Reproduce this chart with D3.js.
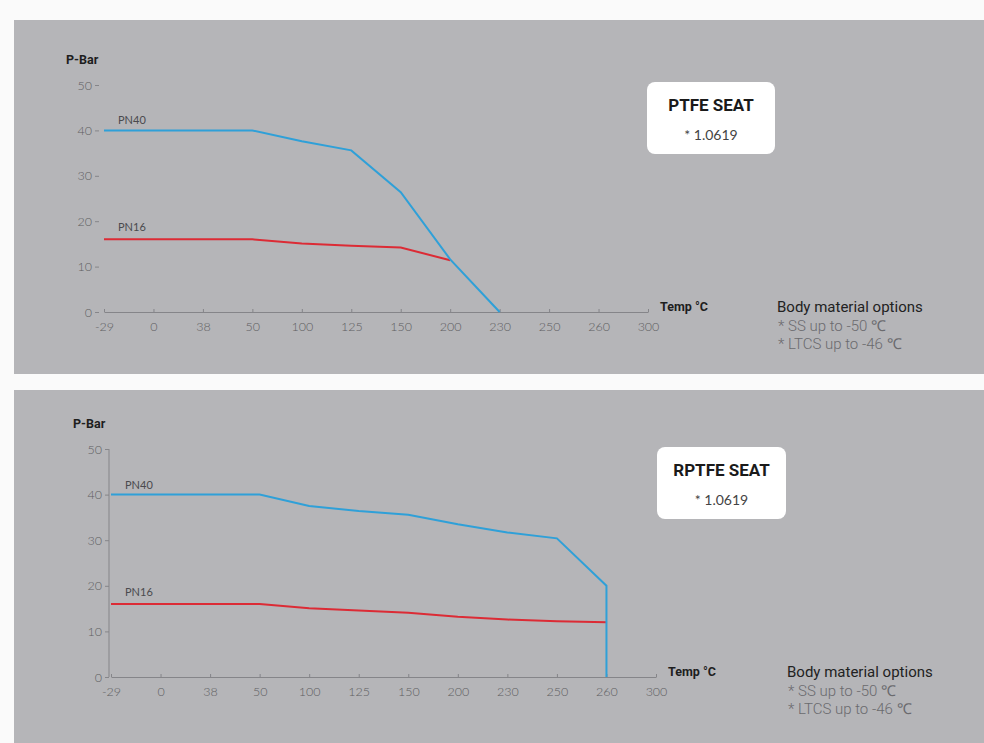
<!DOCTYPE html>
<html>
<head>
<meta charset="utf-8">
<script src="https://cdn.jsdelivr.net/npm/d3@7"></script>
<style>
  body { margin: 0; background: #fafafa; }
  svg { display: block; }
</style>
</head>
<body>
<div id="chart"></div>
<script>
// temperature categories (x axis, evenly spaced)
const temps = ["-29", "0", "38", "50", "100", "125", "150", "200", "230", "250", "260", "300"];
const yTicks = [0, 10, 20, 30, 40, 50];

// PTFE seat
const ptfePN40 = [["-29", 40], ["50", 40], ["100", 37.6], ["125", 35.6], ["150", 26.4], ["200", 11.6], ["230", 0]];
const ptfePN16 = [["-29", 16], ["50", 16], ["100", 15.1], ["125", 14.6], ["150", 14.2], ["200", 11.4]];

// RPTFE seat
const rptfePN40 = [["-29", 40], ["50", 40], ["100", 37.5], ["125", 36.4], ["150", 35.6], ["200", 33.5], ["230", 31.7], ["250", 30.4], ["260", 20], ["260", 0]];
const rptfePN16 = [["-29", 16], ["50", 16], ["100", 15.1], ["125", 14.6], ["150", 14.1], ["200", 13.2], ["230", 12.6], ["250", 12.2], ["260", 12]];

const seatNames = ["PTFE SEAT", "RPTFE SEAT"];
const factor = "* 1.0619";
const bodyNotes = ["Body material options", "* SS up to -50 ℃", "* LTCS up to -46 ℃"];

const W = 984, H = 743;
const svg = d3.select("#chart").append("svg")
    .attr("width", W).attr("height", H);

const narrow = "'Liberation Sans Narrow', 'Roboto', sans-serif";
const light = "'Lato', 'Open Sans', sans-serif";

function drawPanel(cfg) {
    const { top, bottom, left, x0, x1, y0, y1, axisLine, pn40, pn16, name, box, notesX } = cfg;

    svg.append("rect")
        .attr("x", left).attr("y", top)
        .attr("width", W - left).attr("height", bottom - top)
        .attr("fill", "#b5b5b8");

    const x = d3.scalePoint().domain(temps).range([x0, x1]);
    const y = d3.scaleLinear().domain([0, 50]).range([y0, y1]);

    const g = svg.append("g");

    // x axis
    const xAxis = g.append("g")
        .attr("transform", `translate(0,${y0})`)
        .call(d3.axisBottom(x).tickSize(4).tickSizeOuter(0).tickPadding(6));
    xAxis.select(".domain").attr("stroke", "#858589").attr("stroke-width", 1);
    xAxis.selectAll(".tick line").attr("stroke", "#858589").attr("y1", -3).attr("y2", 0);
    xAxis.selectAll(".tick text")
        .attr("fill", "#5e5e62").attr("font-size", 12.5)
        .attr("font-family", light).attr("font-weight", 300);

    // y axis
    const yAxis = g.append("g")
        .attr("transform", `translate(${axisLine ? x0 - 2 : x0 - 5},0)`)
        .call(d3.axisLeft(y).tickValues(yTicks).tickSize(4).tickSizeOuter(0).tickPadding(3));
    yAxis.select(".domain")
        .attr("stroke", axisLine ? "#858589" : "none")
        .attr("d", `M0,${y1}V${y0}`);
    yAxis.selectAll(".tick line").attr("stroke", "#858589");
    yAxis.selectAll(".tick text")
        .attr("fill", "#5e5e62").attr("font-size", 12.5)
        .attr("font-family", light).attr("font-weight", 300);

    g.append("text")
        .attr("x", x0 - 38).attr("y", y1 - 21)
        .attr("font-family", narrow).attr("font-weight", "bold")
        .attr("font-size", 12.5).attr("fill", "#1e1e1e")
        .text("P-Bar");

    g.append("text")
        .attr("x", x1 + 12).attr("y", y0 - 1)
        .attr("font-family", narrow).attr("font-weight", "bold")
        .attr("font-size", 12.5).attr("fill", "#1e1e1e")
        .text("Temp °C");

    const line = d3.line().x(d => x(d[0])).y(d => y(d[1]));

    g.append("path").datum(pn16)
        .attr("d", line).attr("fill", "none")
        .attr("stroke", "#dc2b35").attr("stroke-width", 2);
    g.append("path").datum(pn40)
        .attr("d", line).attr("fill", "none")
        .attr("stroke", "#2fa0d8").attr("stroke-width", 2);

    g.append("text")
        .attr("x", x0 + 14).attr("y", y(pn40[0][1]) - 6)
        .attr("font-family", light).attr("font-size", 11)
        .attr("fill", "#4a4a4e").text("PN40");
    g.append("text")
        .attr("x", x0 + 14).attr("y", y(pn16[0][1]) - 8)
        .attr("font-family", light).attr("font-size", 11)
        .attr("fill", "#4a4a4e").text("PN16");

    // seat box
    svg.append("rect")
        .attr("x", box[0]).attr("y", box[1])
        .attr("width", box[2]).attr("height", 72)
        .attr("rx", 8).attr("fill", "#ffffff");
    svg.append("text")
        .attr("x", box[0] + box[2] / 2).attr("y", box[1] + 29)
        .attr("text-anchor", "middle")
        .attr("font-family", narrow).attr("font-weight", "bold")
        .attr("font-size", 17).attr("fill", "#1a1a1a")
        .text(name);
    svg.append("text")
        .attr("x", box[0] + box[2] / 2).attr("y", box[1] + 58)
        .attr("text-anchor", "middle")
        .attr("font-family", light).attr("font-size", 14)
        .attr("fill", "#444").text(factor);

    // body material notes
    svg.selectAll(null).data(bodyNotes).enter().append("text")
        .attr("x", (d, i) => notesX + (i ? 1 : 0))
        .attr("y", (d, i) => y0 + i * 18.5)
        .attr("font-family", "'Roboto', sans-serif")
        .attr("font-size", 15)
        .attr("fill", (d, i) => i ? "#6a6a6e" : "#222")
        .attr("font-weight", (d, i) => i ? 300 : 400)
        .text(d => d);
}

drawPanel({
    top: 20, bottom: 374, left: 14,
    x0: 104, x1: 648, y0: 312, y1: 85, axisLine: false,
    pn40: ptfePN40, pn16: ptfePN16, name: seatNames[0],
    box: [647, 82, 128], notesX: 777
});

drawPanel({
    top: 390, bottom: 743, left: 14,
    x0: 111, x1: 656, y0: 677, y1: 449, axisLine: true,
    pn40: rptfePN40, pn16: rptfePN16, name: seatNames[1],
    box: [657, 447, 129], notesX: 787
});
</script>
</body>
</html>
